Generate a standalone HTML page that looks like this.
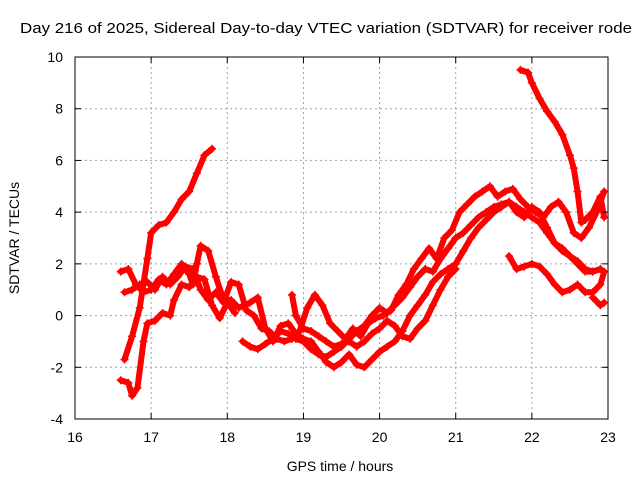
<!DOCTYPE html>
<html><head><meta charset="utf-8"><style>
body{margin:0;background:#fff}
svg{display:block;font-family:"Liberation Sans",sans-serif}
</style></head><body>
<svg id="chart" width="640" height="480">
<text x="20" y="33" font-size="15" textLength="612" lengthAdjust="spacingAndGlyphs">Day 216 of 2025, Sidereal Day-to-day VTEC variation (SDTVAR) for receiver rode</text>
<text x="340" y="471" font-size="14" text-anchor="middle">GPS time / hours</text>
<text transform="translate(19,238) rotate(-90)" font-size="14" text-anchor="middle">SDTVAR / TECUs</text>
<g id="grid"></g><g id="marks"></g><g id="axes"></g>
</svg>
<script>
const xTicks=[16,17,18,19,20,21,22,23];
const yTicks=[-4,-2,0,2,4,6,8,10];
const s1x=[16.6,16.7,16.8,16.9,17.0,17.1,17.2,17.3,17.4,17.5,17.55,17.6,17.65,17.75,17.85,17.95,18.05,18.15,18.3,18.4,18.5,18.6,18.7,18.8,18.9,19.0,19.1,19.2,19.3,19.4,19.5,19.6,19.7,19.8,19.9,20.0,20.1,20.2,20.3,20.4,20.5,20.6,20.7,20.8,20.9,21.0,21.1,21.2,21.3,21.4,21.5,21.6,21.7,21.8,21.9,22.0,22.1,22.2,22.3,22.4,22.5,22.6,22.7,22.8,22.9];
const s1y=[1.7,1.8,1.2,0.9,1.0,1.4,1.2,1.6,2.0,1.6,1.2,2.0,2.7,2.5,1.5,0.6,0.6,0.3,0.5,0.7,-0.5,-1.0,-0.4,-0.3,-0.7,-0.9,-1.0,-1.4,-1.8,-2.0,-1.8,-1.5,-1.9,-2.0,-1.7,-1.4,-1.2,-1.0,-0.6,0.0,0.4,0.8,1.3,1.6,1.8,2.0,2.5,3.0,3.4,3.7,4.0,4.2,4.4,4.2,4.0,3.8,3.6,3.2,2.8,2.5,2.3,2.1,1.8,1.7,1.8];
const s2x=[16.65,16.75,16.85,16.95,17.05,17.15,17.25,17.35,17.45,17.55,17.65,17.75,17.85,17.95,18.05,18.15,18.25,18.35,18.45,18.55,18.65,18.75,18.85,18.95,19.05,19.15,19.25,19.35,19.45,19.55,19.65,19.75,19.85,19.95,20.05,20.15,20.25,20.35,20.45,20.55,20.65,20.75,20.85,20.95,21.05,21.15,21.25,21.35,21.45,21.55,21.65,21.75,21.85,21.95,22.05,22.15,22.25,22.35,22.45,22.55,22.65,22.75,22.85,22.95];
const s2y=[0.9,1.0,1.2,1.3,1.0,1.5,1.2,1.5,1.9,1.8,1.0,0.6,0.9,0.5,1.3,1.2,0.2,0.0,-0.5,-0.6,-0.9,-1.0,-0.9,-0.6,0.3,0.8,0.4,-0.3,-0.6,-0.9,-0.5,-0.8,-0.3,-0.1,0.0,0.2,0.8,1.2,1.8,2.2,2.6,2.2,3.0,3.3,4.0,4.3,4.6,4.8,5.0,4.6,4.8,4.9,4.5,4.2,4.0,3.8,4.2,4.4,4.0,3.2,3.0,3.4,4.0,4.8];
const s3x=[16.6,16.7,16.75,16.82,16.9,16.95,17.05,17.15,17.25,17.3,17.4,17.5,17.6,17.7,17.8,17.9,18.0,18.1];
const s3y=[-2.5,-2.6,-3.1,-2.8,-1.0,-0.3,-0.2,0.1,0.0,0.6,1.2,1.1,1.5,1.4,0.4,-0.1,0.5,0.1];
const s4x=[18.2,18.3,18.4,18.5,18.6,18.7,18.8,18.9,19.0,19.1,19.2,19.3,19.4,19.5,19.6,19.7,19.8,19.9,20.0,20.1,20.2,20.3,20.4,20.5,20.6,20.7,20.8,20.9,21.0,21.1,21.2,21.3,21.4,21.5,21.6,21.7,21.8,21.9,22.0,22.1,22.2,22.3,22.4,22.5,22.6,22.7,22.8,22.9];
const s4y=[-1.0,-1.2,-1.3,-1.1,-0.9,-0.6,-0.7,-0.9,-1.0,-1.3,-1.5,-1.6,-1.4,-1.2,-0.9,-0.6,-0.4,0.0,0.3,0.1,0.4,0.7,1.1,1.5,1.8,1.7,2.2,2.6,3.0,3.2,3.5,3.8,4.0,4.2,4.3,4.4,4.0,3.8,4.2,4.0,3.4,2.8,2.6,2.3,2.0,1.7,1.7,1.8];
const s5x=[18.85,18.9,19.0,19.1,19.2,19.3,19.4,19.5,19.6,19.7,19.8,19.9,20.0,20.1,20.2,20.3,20.4,20.5,20.6,20.7,20.8,20.9,21.0];
const s5y=[0.8,0.0,-0.5,-0.6,-0.8,-1.0,-1.2,-1.1,-1.0,-1.2,-1.0,-0.7,-0.5,-0.2,-0.4,-0.8,-0.9,-0.5,-0.2,0.4,1.0,1.5,1.8];
const s6x=[16.65,16.75,16.85,16.95,17.0,17.1,17.2,17.3,17.4,17.5,17.6,17.7,17.8];
const s6y=[-1.7,-0.8,0.3,2.2,3.2,3.5,3.6,4.0,4.5,4.8,5.5,6.2,6.45];
const s7x=[21.7,21.8,21.9,22.0,22.1,22.2,22.3,22.4,22.5,22.6,22.7,22.8,22.9,22.95];
const s7y=[2.3,1.8,1.9,2.0,1.9,1.6,1.2,0.9,1.0,1.2,0.9,0.9,1.2,1.7];
const s8x=[22.8,22.9,22.95];
const s8y=[0.7,0.4,0.5];
const s9x=[21.85,21.95,22.0,22.1,22.2,22.3,22.4,22.5,22.55,22.6,22.65,22.7,22.8,22.9,22.95];
const s9y=[9.5,9.4,9.0,8.4,7.9,7.5,7.0,6.2,5.7,4.8,3.6,3.7,4.0,4.6,3.8];
const series=[[s1x,s1y],[s2x,s2y],[s3x,s3y],[s4x,s4y],[s5x,s5y],[s6x,s6y],[s7x,s7y],[s8x,s8y],[s9x,s9y]];
const L=75,R=608,T=57,B=419;
const X=h=>L+(h-16)/7*(R-L);
const Y=v=>B-(v+4)/14*(B-T);
const NS='http://www.w3.org/2000/svg';
function mk(t,a,p){const e=document.createElementNS(NS,t);for(const k in a)e.setAttribute(k,a[k]);p.appendChild(e);return e;}
const grid=document.getElementById('grid'),axes=document.getElementById('axes'),marks=document.getElementById('marks');
xTicks.forEach(t=>{
 const g=mk('line',{x1:X(t),x2:X(t),y1:T,y2:B,stroke:'#a0a0a0','stroke-dasharray':'2,3'},grid);
 
 
 mk('line',{x1:X(t),x2:X(t),y1:B,y2:B-6,stroke:'#000'},axes);
 mk('line',{x1:X(t),x2:X(t),y1:T,y2:T+6,stroke:'#000'},axes);
 const tx=mk('text',{x:X(t),y:442,'font-size':14,'text-anchor':'middle'},axes);tx.textContent=t;
 
 
});
yTicks.forEach(t=>{
 const g=mk('line',{x1:L,x2:R,y1:Y(t),y2:Y(t),stroke:'#a0a0a0','stroke-dasharray':'2,3'},grid);
 
 
 mk('line',{x1:L,x2:L+6,y1:Y(t),y2:Y(t),stroke:'#000'},axes);
 mk('line',{x1:R,x2:R-6,y1:Y(t),y2:Y(t),stroke:'#000'},axes);
 const tx=mk('text',{x:63,y:Y(t)+5,'font-size':14,'text-anchor':'end'},axes);tx.textContent=t;
 
 
});
const fr=mk('rect',{x:L,y:T,width:R-L,height:B-T,fill:'none',stroke:'#000'},axes);


series.forEach(([xs,ys],i)=>{
 const pts=xs.map((x,j)=>X(x)+','+Y(ys[j])).join(' ');
 const pl=mk('polyline',{points:pts,fill:'none',stroke:'#f00','stroke-width':6,'stroke-linejoin':'round','stroke-linecap':'round'},marks);
 
 
 xs.forEach((x,j)=>{
  const cx=X(x),cy=Y(ys[j]);
  const p=mk('path',{d:`M${cx-4},${cy}H${cx+4}M${cx},${cy-4}V${cy+4}`,stroke:'#f00','stroke-width':1.5},marks);
  
  
 });
});
</script>
</body></html>
